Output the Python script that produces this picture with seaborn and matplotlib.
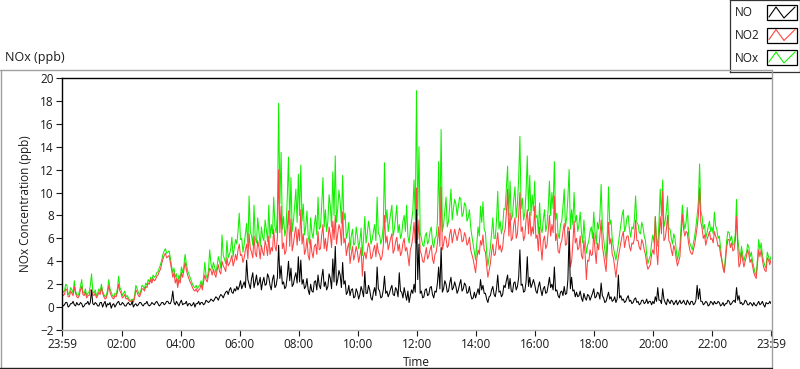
import matplotlib
matplotlib.use("Agg")
import matplotlib.pyplot as plt
import matplotlib.dates as mdates
from matplotlib.ticker import FixedLocator
from matplotlib.lines import Line2D
from matplotlib.patches import Rectangle
import pandas as pd
import seaborn as sns

# readings every 2.5 minutes, 23:59 -> 23:59 next day (one row per hour)
start_time = "2000-01-01 23:59"
step = "150s"

nox_ppb = [
    1.6, 1.3, 1.4, 2.0, 1.9, 1.1, 1.2, 1.7, 1.5, 1.2, 2.3, 1.4, 1.1, 1.0, 1.3, 1.8, 2.4, 1.3, 1.2, 1.6, 1.0, 1.2, 1.3, 1.9,
    2.9, 1.4, 1.2, 1.5, 1.0, 1.2, 1.6, 1.3, 2.0, 1.4, 1.1, 0.9, 1.0, 1.5, 2.4, 1.6, 1.3, 1.0, 0.9, 1.2, 1.1, 1.6, 2.7, 1.7,
    1.5, 1.0, 1.2, 1.4, 0.9, 1.0, 0.8, 0.6, 0.6, 0.7, 0.5, 1.0, 1.9, 1.6, 1.3, 1.1, 1.4, 1.9, 1.8, 1.6, 2.1, 1.9, 2.4, 2.2,
    2.6, 2.3, 2.8, 2.6, 2.7, 3.0, 3.1, 3.4, 3.7, 4.1, 4.6, 4.9, 5.1, 4.7, 4.8, 4.9, 4.3, 3.6, 3.0, 3.4, 2.6, 2.9, 2.0, 2.8,
    2.4, 3.5, 3.0, 3.6, 4.6, 3.8, 3.2, 2.9, 2.6, 2.3, 2.0, 1.8, 1.7, 1.9, 1.6, 1.8, 1.9, 2.3, 1.8, 2.6, 3.9, 2.8, 2.5, 3.2,
    5.0, 3.8, 3.3, 3.9, 3.5, 3.0, 3.6, 4.4, 4.0, 3.4, 6.3, 4.5, 4.2, 3.8, 5.8, 4.3, 4.6, 5.0, 6.1, 4.4, 5.2, 5.9, 5.5, 6.6,
    8.2, 5.9, 6.0, 4.8, 5.5, 6.4, 7.3, 5.2, 9.7, 6.6, 6.2, 5.4, 8.9, 6.0, 5.6, 7.8, 6.5, 5.3, 7.0, 6.1, 5.8, 7.6, 6.8, 5.7,
    8.9, 6.0, 7.2, 6.4, 9.6, 7.0, 6.5, 8.2, 17.8, 9.0, 13.5, 6.8, 7.9, 6.2, 6.8, 9.5, 13.1, 7.2, 11.3, 6.6, 7.5, 8.8, 10.3, 7.4,
    11.6, 8.0, 12.4, 7.5, 9.0, 6.3, 7.0, 8.4, 6.2, 5.5, 7.8, 6.5, 6.0, 7.2, 8.0, 6.3, 9.6, 6.8, 7.0, 8.9, 11.3, 7.0, 8.5, 6.6,
    7.5, 9.8, 8.8, 7.0, 11.8, 8.0, 13.2, 7.4, 8.6, 10.2, 9.2, 7.3, 11.5, 7.6, 8.2, 6.0, 6.5, 7.4, 5.0, 6.2, 6.8, 5.4, 5.6, 7.0,
    6.2, 5.1, 5.8, 6.9, 4.5, 6.0, 7.9, 5.6, 6.4, 7.5, 6.8, 5.5, 5.9, 6.6, 7.2, 5.8, 9.6, 6.4, 6.3, 5.5, 6.0, 7.1, 12.6, 7.4,
    8.5, 6.6, 7.4, 8.2, 8.9, 6.2, 6.8, 7.8, 8.9, 6.5, 7.2, 6.0, 6.4, 7.5, 8.0, 6.6, 8.9, 6.2, 5.6, 6.8, 7.5, 8.4, 11.1, 7.6,
    18.9, 8.0, 14.0, 6.5, 6.0, 5.4, 5.3, 6.2, 6.5, 5.5, 5.8, 6.6, 7.0, 5.6, 5.2, 6.0, 6.2, 7.4, 12.7, 7.0, 15.5, 6.6, 7.2, 8.4,
    9.6, 7.0, 7.5, 8.8, 10.3, 7.6, 8.6, 9.4, 9.0, 8.0, 8.8, 9.6, 9.4, 7.9, 8.2, 9.1, 8.9, 7.5, 7.8, 8.5, 7.0, 6.2, 5.5, 4.8,
    4.1, 5.6, 7.0, 6.2, 8.8, 7.4, 9.2, 6.8, 6.5, 4.8, 3.6, 4.4, 5.2, 6.4, 7.8, 6.0, 6.0, 7.6, 10.1, 6.8, 7.5, 6.4, 7.0, 8.6,
    8.5, 10.4, 12.3, 8.0, 11.0, 7.6, 8.0, 9.4, 10.5, 7.8, 9.0, 11.2, 14.9, 8.6, 9.5, 7.6, 8.2, 10.0, 13.2, 8.4, 11.5, 8.0, 9.8, 8.4,
    11.0, 7.8, 8.0, 6.4, 9.1, 6.9, 6.5, 7.6, 8.5, 6.6, 7.2, 8.6, 11.0, 8.0, 10.0, 8.6, 12.7, 7.6, 8.2, 6.4, 6.0, 7.2, 7.5, 8.8,
    10.3, 7.0, 7.8, 9.6, 12.0, 6.8, 8.5, 7.2, 10.0, 7.4, 8.0, 6.6, 7.2, 8.3, 6.5, 5.6, 7.6, 6.0, 4.7, 5.4, 5.8, 6.6, 7.0, 6.0,
    8.3, 6.6, 5.5, 7.4, 6.8, 8.0, 10.7, 7.0, 6.0, 5.0, 4.1, 6.4, 10.5, 7.2, 7.6, 6.0, 5.2, 4.6, 4.1, 4.8, 5.5, 6.4, 7.2, 8.0,
    8.5, 6.6, 7.0, 7.8, 8.0, 6.8, 6.1, 7.0, 6.8, 7.6, 9.7, 7.4, 7.2, 6.5, 6.4, 7.4, 7.0, 6.2, 5.8, 4.6, 3.8, 4.2, 4.5, 5.6,
    6.3, 5.6, 7.9, 6.0, 5.3, 7.4, 10.3, 8.0, 11.1, 7.0, 7.5, 8.4, 9.7, 6.9, 6.8, 6.0, 5.5, 6.4, 6.0, 5.0, 4.1, 4.7, 5.3, 7.2,
    8.9, 7.6, 6.8, 7.4, 8.7, 6.4, 5.6, 5.3, 5.0, 5.6, 6.2, 7.0, 8.0, 9.2, 12.5, 8.4, 7.9, 6.8, 7.2, 6.0, 6.5, 7.0, 7.5, 6.6,
    7.0, 6.4, 8.3, 7.1, 6.8, 6.0, 6.2, 5.2, 4.2, 3.6, 3.1, 4.4, 5.8, 6.6, 6.5, 5.8, 6.2, 5.4, 5.5, 6.4, 9.4, 6.0, 5.0, 4.2,
    5.3, 4.6, 4.0, 4.5, 4.7, 5.5, 5.2, 4.4, 4.8, 4.0, 3.5, 3.0, 2.8, 4.2, 5.9, 5.0, 5.6, 4.6, 4.0, 3.6, 3.4, 4.8, 4.4, 4.0,
    4.4,
]

no2_ppb = [
    1.3, 1.0, 1.1, 1.6, 1.5, 0.9, 0.9, 1.4, 1.2, 1.0, 1.8, 1.2, 0.9, 0.8, 1.0, 1.5, 1.8, 1.1, 1.0, 1.3, 0.8, 1.0, 1.0, 1.5,
    1.4, 1.1, 1.0, 1.2, 0.8, 1.0, 1.3, 1.1, 1.7, 1.2, 0.9, 0.7, 0.8, 1.2, 1.9, 1.3, 1.0, 0.8, 0.7, 1.0, 0.9, 1.3, 2.0, 1.4,
    1.2, 0.8, 0.9, 1.1, 0.7, 0.8, 0.6, 0.5, 0.5, 0.6, 0.4, 0.8, 1.5, 1.3, 1.0, 0.9, 1.2, 1.6, 1.6, 1.4, 1.8, 1.7, 2.1, 2.0,
    2.4, 2.1, 2.5, 2.3, 2.4, 2.7, 2.8, 3.1, 3.3, 3.8, 4.2, 4.5, 4.7, 4.3, 4.4, 4.5, 3.9, 3.3, 2.6, 3.0, 2.1, 2.5, 1.7, 2.4,
    2.1, 3.0, 2.6, 3.2, 3.9, 3.3, 2.8, 2.5, 2.2, 2.0, 1.7, 1.5, 1.4, 1.6, 1.3, 1.5, 1.6, 2.0, 1.5, 2.2, 2.8, 2.4, 2.2, 2.8,
    3.4, 3.2, 2.8, 3.3, 2.9, 2.6, 3.2, 3.7, 3.1, 2.9, 4.0, 3.6, 3.4, 3.1, 4.3, 3.6, 3.8, 4.1, 4.5, 3.6, 4.0, 4.6, 4.1, 5.0,
    5.5, 4.5, 4.6, 3.9, 4.3, 5.0, 5.5, 4.2, 6.4, 5.1, 4.8, 4.3, 6.2, 4.7, 4.4, 5.8, 5.2, 4.2, 5.4, 4.8, 4.5, 5.8, 5.3, 4.5,
    6.2, 4.6, 5.2, 4.9, 6.8, 5.3, 4.9, 6.1, 12.0, 6.5, 8.8, 5.1, 5.6, 4.6, 4.9, 6.8, 8.4, 5.3, 7.7, 4.9, 5.5, 6.4, 7.0, 5.4,
    6.8, 5.8, 8.5, 5.5, 6.4, 4.6, 5.0, 6.0, 4.5, 4.1, 5.9, 4.8, 4.3, 5.3, 5.5, 4.6, 6.6, 5.0, 5.1, 6.3, 7.2, 5.1, 6.0, 4.9,
    5.8, 7.0, 6.3, 5.2, 7.5, 5.9, 8.0, 5.5, 6.4, 7.2, 6.8, 5.4, 8.3, 5.6, 6.0, 4.5, 5.2, 5.6, 3.8, 4.6, 5.3, 4.1, 4.6, 5.3,
    4.8, 3.9, 4.5, 5.2, 2.7, 4.4, 4.8, 4.2, 4.9, 5.6, 5.2, 4.2, 4.4, 5.0, 5.4, 4.4, 5.6, 4.8, 4.6, 4.1, 4.4, 5.3, 8.0, 5.6,
    6.2, 5.0, 5.5, 6.0, 6.4, 4.7, 5.0, 5.7, 6.1, 4.9, 5.5, 4.5, 4.8, 5.6, 6.0, 4.9, 5.2, 4.5, 3.6, 5.0, 5.4, 6.1, 7.4, 5.6,
    10.4, 5.9, 7.6, 4.9, 4.6, 4.0, 3.9, 4.6, 5.2, 4.2, 4.5, 5.0, 5.4, 4.2, 3.8, 4.6, 4.8, 5.6, 7.0, 5.3, 10.5, 5.0, 5.5, 6.2,
    6.0, 5.2, 5.4, 6.4, 6.8, 5.6, 6.2, 6.8, 6.3, 5.8, 6.4, 6.9, 6.6, 5.7, 5.8, 6.5, 6.2, 5.4, 5.6, 6.1, 5.0, 4.6, 4.2, 3.6,
    3.0, 4.2, 5.0, 4.6, 5.8, 5.4, 6.3, 5.0, 4.8, 3.6, 2.6, 3.2, 3.8, 4.8, 5.5, 4.5, 4.6, 5.6, 6.5, 5.0, 5.4, 4.8, 5.2, 6.4,
    6.8, 8.2, 10.3, 6.2, 8.2, 5.8, 6.0, 7.2, 7.8, 6.0, 6.4, 8.0, 10.0, 6.6, 7.0, 5.8, 6.2, 7.6, 8.5, 6.4, 8.3, 6.2, 7.0, 6.4,
    8.8, 6.0, 6.3, 4.9, 7.0, 5.3, 4.1, 5.8, 6.2, 5.1, 5.4, 6.6, 8.0, 6.2, 7.2, 6.5, 9.7, 5.8, 6.4, 4.9, 4.7, 5.5, 5.8, 6.6,
    7.3, 5.4, 5.5, 7.0, 6.8, 3.5, 4.0, 5.5, 7.5, 5.6, 6.0, 5.0, 5.2, 6.2, 4.5, 4.2, 5.8, 4.6, 2.4, 4.1, 4.0, 5.0, 4.5, 4.6,
    6.5, 5.0, 3.8, 5.6, 5.0, 6.2, 7.6, 5.3, 4.6, 3.8, 3.1, 4.9, 7.4, 5.5, 6.0, 4.6, 4.3, 3.5, 2.6, 3.6, 4.4, 5.0, 5.6, 6.2,
    6.6, 5.2, 5.8, 6.2, 6.2, 5.3, 4.9, 5.6, 5.5, 6.0, 7.6, 5.8, 5.8, 5.2, 5.0, 5.9, 5.6, 5.0, 4.6, 3.8, 3.3, 3.5, 3.7, 4.6,
    5.0, 4.6, 7.9, 5.0, 3.7, 6.0, 7.9, 6.4, 10.1, 5.8, 6.0, 6.8, 8.0, 5.8, 5.6, 5.0, 4.5, 5.4, 5.0, 4.2, 3.6, 4.0, 4.4, 6.2,
    8.1, 6.8, 6.2, 6.6, 6.5, 5.6, 5.0, 4.7, 4.6, 5.0, 5.5, 6.2, 7.0, 8.0, 10.4, 7.4, 6.9, 6.0, 6.3, 5.4, 5.9, 6.2, 6.6, 5.9,
    6.0, 5.6, 6.6, 6.2, 5.9, 5.3, 5.4, 4.6, 4.1, 3.4, 3.0, 4.0, 5.2, 5.9, 5.9, 5.2, 5.6, 4.9, 5.0, 5.8, 7.9, 5.2, 3.5, 3.8,
    4.8, 4.1, 3.5, 4.0, 4.4, 5.0, 4.6, 3.9, 4.2, 3.6, 3.0, 2.7, 2.5, 3.8, 5.0, 4.4, 5.0, 4.1, 3.5, 3.2, 3.1, 4.3, 4.1, 3.7,
    4.1,
]

no_ppb = [
    0.3, 0.1, 0.2, 0.4, 0.4, 0.0, 0.1, 0.3, 0.3, 0.5, 0.2, 0.1, 0.4, 0.2, 0.2, 0.4, 0.3, 0.0, 0.1, 0.3, 0.3, 0.5, 0.2, 0.4,
    1.5, 0.3, 0.2, 0.4, 0.3, 0.1, 0.1, 0.4, 0.4, 0.0, 0.3, 0.5, 0.0, 0.3, 0.2, 0.4, -0.1, 0.2, 0.3, 0.0, 0.2, 0.4, 0.5, 0.2,
    0.2, 0.4, 0.3, 0.1, 0.1, 0.3, 0.4, 0.2, 0.2, 0.5, 0.0, 0.2, 0.3, 0.1, 0.2, 0.4, 0.4, 0.2, 0.1, 0.3, 0.3, 0.5, 0.2, 0.1,
    0.2, 0.4, 0.3, 0.2, 0.4, 0.5, 0.3, 0.1, 0.2, 0.4, 0.4, 0.2, 0.3, 0.5, 0.5, 0.3, 0.3, 0.6, 1.4, 0.4, 0.2, 0.5, 0.3, 0.1,
    0.4, 0.6, 0.2, 0.3, 0.3, 0.5, 0.1, 0.3, 0.3, 0.1, 0.2, 0.4, 0.0, 0.3, 0.3, 0.5, 0.2, 0.4, 0.4, 0.2, 0.3, 0.6, 0.5, 0.4,
    0.5, 0.7, 0.6, 0.5, 0.7, 0.9, 0.8, 0.6, 0.9, 1.1, 1.0, 0.8, 1.1, 1.3, 1.4, 1.1, 1.5, 1.7, 1.3, 1.2, 1.6, 1.4, 1.8, 1.5,
    1.8, 2.3, 1.6, 1.9, 2.2, 1.7, 4.1, 2.4, 2.0, 1.6, 2.5, 3.0, 1.7, 2.2, 2.8, 1.9, 2.1, 2.6, 1.5, 2.2, 2.6, 1.9, 2.0, 2.9,
    2.6, 1.9, 1.5, 2.4, 2.8, 1.7, 1.9, 2.6, 5.4, 2.5, 3.6, 2.0, 2.2, 1.6, 1.8, 2.7, 4.0, 2.3, 3.4, 1.8, 2.0, 2.6, 3.0, 2.1,
    4.4, 2.2, 4.1, 2.0, 2.4, 1.6, 1.8, 2.5, 1.5, 1.1, 2.0, 1.4, 1.3, 2.2, 2.3, 1.5, 2.8, 1.9, 1.6, 2.6, 3.3, 1.8, 2.2, 1.5,
    1.8, 2.9, 2.5, 1.6, 4.2, 2.2, 5.3, 1.9, 2.4, 3.2, 2.8, 1.7, 3.9, 2.0, 2.3, 1.1, 1.3, 1.9, 1.0, 1.5, 1.6, 0.8, 0.9, 1.6,
    1.3, 0.7, 1.1, 1.8, 1.4, 0.9, 3.1, 1.2, 1.2, 1.9, 1.5, 0.8, 0.6, 1.3, 1.7, 1.0, 3.5, 1.6, 1.4, 0.8, 0.9, 1.5, 2.7, 1.2,
    1.4, 0.9, 1.2, 1.6, 1.9, 1.1, 1.0, 1.7, 1.5, 0.9, 3.0, 1.4, 1.3, 0.8, 1.7, 1.1, 0.6, 1.4, 0.4, 1.0, 1.5, 1.2, 2.0, 1.3,
    8.5, 2.4, 5.5, 1.2, 1.4, 0.8, 0.9, 1.5, 1.6, 1.0, 1.1, 1.7, 1.8, 1.1, 0.8, 1.4, 1.3, 2.1, 3.5, 1.6, 5.2, 1.3, 1.6, 2.3,
    2.0, 1.3, 1.4, 2.1, 2.6, 1.5, 1.7, 2.2, 1.8, 1.2, 1.5, 2.0, 2.4, 1.4, 1.6, 2.1, 1.9, 1.2, 1.3, 1.8, 1.1, 0.7, 0.8, 1.3,
    0.8, 1.2, 1.6, 1.1, 2.4, 1.5, 1.9, 1.2, 1.2, 0.7, 0.4, 0.9, 1.0, 1.5, 1.8, 1.1, 0.9, 1.6, 2.8, 1.3, 1.4, 0.9, 1.1, 1.9,
    1.7, 2.3, 2.8, 1.6, 2.5, 1.4, 1.3, 2.1, 2.2, 1.5, 1.8, 2.6, 5.0, 1.9, 2.0, 1.3, 1.4, 2.2, 4.4, 1.8, 2.6, 1.7, 2.0, 2.4,
    2.0, 1.4, 1.2, 1.8, 2.2, 1.5, 1.0, 1.6, 1.8, 1.2, 1.3, 1.9, 2.6, 1.7, 2.0, 1.5, 3.5, 1.4, 1.5, 1.0, 0.8, 1.3, 1.4, 1.0,
    1.8, 1.1, 1.2, 2.4, 6.6, 1.6, 2.6, 1.4, 1.5, 0.9, 1.3, 0.9, 1.0, 1.4, 0.8, 0.5, 1.2, 0.8, 0.6, 1.1, 1.0, 0.6, 0.9, 1.2,
    1.6, 0.8, 0.9, 1.3, 1.2, 0.7, 2.1, 1.0, 0.8, 0.4, 0.5, 0.9, 1.3, 0.7, 0.9, 0.5, 0.6, 0.9, 0.4, 0.7, 2.8, 0.8, 1.0, 0.6,
    0.7, 0.4, 0.5, 0.8, 1.0, 0.5, 0.6, 0.3, 0.4, 0.7, 0.8, 0.4, 0.5, 0.2, 0.3, 0.6, 0.6, 0.3, 0.4, 0.7, 0.3, 0.5, 0.5, 0.2,
    0.5, 0.3, 0.9, 0.5, 1.7, 0.6, 0.6, 0.3, 1.6, 0.7, 0.4, 0.2, 0.7, 0.5, 0.3, 0.6, 0.5, 0.2, 0.4, 0.6, 0.2, 0.4, 0.6, 0.3,
    0.4, 0.6, 0.3, 0.2, 0.6, 0.4, 0.2, 0.5, 0.5, 0.2, 0.3, 0.6, 1.9, 0.7, 1.6, 0.5, 0.5, 0.2, 0.3, 0.5, 0.4, 0.1, 0.2, 0.5,
    0.4, 0.2, 0.5, 0.3, 0.3, 0.5, 0.4, 0.1, 0.2, 0.4, 0.1, 0.3, 0.3, 0.6, 0.5, 0.2, 0.3, 0.5, 0.6, 0.4, 1.7, 0.6, 1.0, 0.3,
    0.4, 0.2, 0.3, 0.6, 0.5, 0.2, 0.2, 0.4, 0.3, 0.1, 0.4, 0.2, 0.1, 0.3, 0.5, 0.2, 0.3, 0.5, 0.2, 0.0, 0.4, 0.3, 0.3, 0.5,
    0.3,
]

series_names = ["NO", "NO2", "NOx"]
series_colors = {"NO": "#000000", "NO2": "#ff4444", "NOx": "#11f000"}
y_ticks = list(range(-2, 21, 2))
label_hours = list(range(2, 23, 2))

times = pd.date_range(start_time, periods=len(nox_ppb), freq=step)
df = pd.DataFrame({"Time": times, "NO": no_ppb, "NO2": no2_ppb, "NOx": nox_ppb})
long_df = df.melt(id_vars="Time", var_name="series", value_name="ppb")

sns.set_style("white")
plt.rcParams["font.family"] = ["Open Sans", "DejaVu Sans"]
txt = "#1a1a1a"

W, H = 800, 369
fig = plt.figure(figsize=(W / 100, H / 100), dpi=100)
fig.patch.set_facecolor("white")


def px_box(x0, y0, x1, y1):
    return [x0 / W, 1 - y1 / H, (x1 - x0) / W, (y1 - y0) / H]


ax = fig.add_axes(px_box(62, 78, 771, 330))
sns.lineplot(data=long_df, x="Time", y="ppb", hue="series",
             hue_order=["NOx", "NO2", "NO"], palette=series_colors,
             estimator=None, linewidth=0.75, legend=False, ax=ax)

ax.set_xlim(times[0], times[-1])
ax.set_ylim(-2, 20)
ax.set_yticks(y_ticks)

day = times[0].normalize() + pd.Timedelta(days=1)
major = [times[0]] + [day + pd.Timedelta(hours=h) for h in label_hours] + [times[-1]]
ax.xaxis.set_major_locator(FixedLocator(mdates.date2num(major)))
ax.xaxis.set_major_formatter(mdates.DateFormatter("%H:%M"))
ax.xaxis.set_minor_locator(mdates.MinuteLocator(byminute=[0, 15, 30, 45]))

ax.tick_params(axis="both", which="major", direction="out", length=4,
               width=0.8, color=txt, labelsize=8.5, labelcolor=txt, pad=2)
ax.tick_params(axis="x", which="minor", direction="out", length=2.5,
               width=0.8, color=txt)
ax.tick_params(axis="x", which="major", length=4, bottom=True)
ax.tick_params(axis="y", left=True)

for side in ["left", "top"]:
    ax.spines[side].set_color("black")
    ax.spines[side].set_linewidth(1.0)
ax.spines["bottom"].set_color("#b0b0b0")
ax.spines["bottom"].set_linewidth(1.0)
ax.spines["right"].set_visible(False)

ax.set_ylabel("NOx Concentration (ppb)", fontsize=8.5, color=txt)
ax.set_xlabel("Time", fontsize=8.5, color=txt)
ax.yaxis.set_label_coords(-0.042, 0.5)
ax.xaxis.set_label_coords(0.5, -0.102)

# graph panel frame and caption
fig.text(5 / W, 1 - 58 / H, "NOx (ppb)", fontsize=9, color=txt, va="center")
frame = dict(transform=fig.transFigure, linewidth=1.0)
fig.add_artist(Line2D([0, 772 / W], [1 - 69.5 / H] * 2, color="#a0a0a0", **frame))
fig.add_artist(Line2D([0.6 / W] * 2, [1 - 69.5 / H, 1 - 368 / H], color="#a0a0a0", **frame))
fig.add_artist(Line2D([772 / W] * 2, [1 - 69.5 / H, 1 - 368 / H], color="#a0a0a0", **frame))
fig.add_artist(Line2D([0, 772 / W], [1 - 368 / H] * 2, color="#202020", **frame))

# plot legend, drawn the LabVIEW way: name + small line swatch
lax = fig.add_axes(px_box(730, 0, 799.5, 72))
lax.set_xlim(0, 69.5)
lax.set_ylim(72, 0)
lax.set_xticks([])
lax.set_yticks([])
for s in lax.spines.values():
    s.set_color("#333333")
    s.set_linewidth(0.9)
for i, name in enumerate(series_names):
    top = 5 + i * 22.5
    lax.text(5, top + 8, name, fontsize=8.5, color=txt, va="center")
    lax.add_patch(Rectangle((37, top), 30, 15, facecolor="white",
                            edgecolor="black", linewidth=0.9))
    lax.plot([39, 46, 54, 65], [top + 12, top + 2, top + 13, top + 2],
             color=series_colors[name], linewidth=0.8)

fig.savefig("out.png", dpi=100)
